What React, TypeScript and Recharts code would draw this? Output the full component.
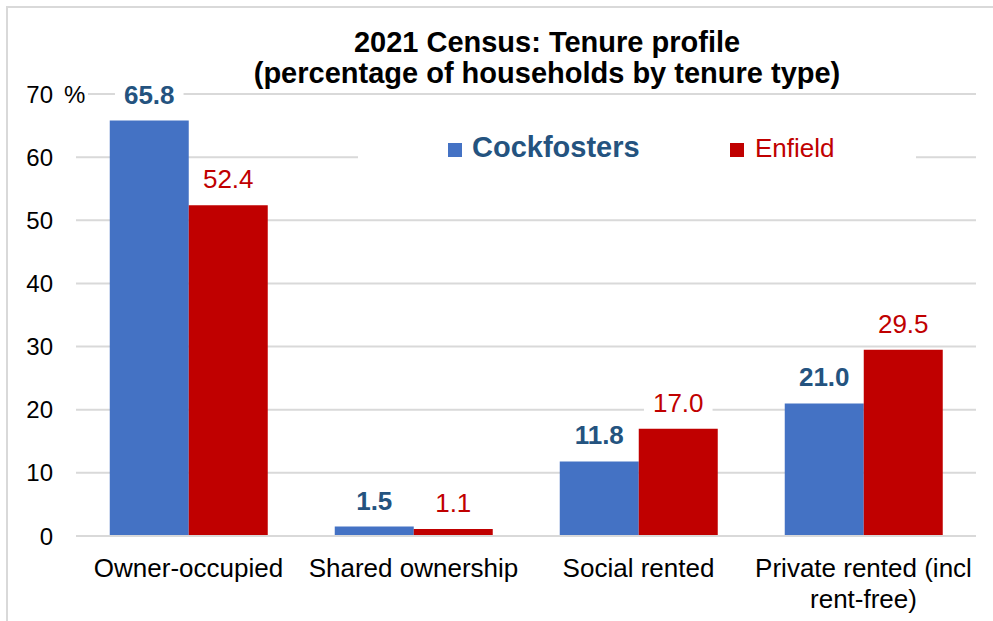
import React from "react";
import { BarChart, Bar, XAxis, YAxis, CartesianGrid, LabelList, Legend } from "recharts";

const categories = ["Owner-occupied", "Shared ownership", "Social rented", "Private rented (incl rent-free)"];
const categoryLines = [["Owner-occupied"], ["Shared ownership"], ["Social rented"], ["Private rented (incl", "rent-free)"]];
const cockfosters = [65.8, 1.5, 11.8, 21.0];
const enfield = [52.4, 1.1, 17.0, 29.5];
const yTicks = [0, 10, 20, 30, 40, 50, 60, 70];
const seriesNames = ["Cockfosters", "Enfield"];
const titleLines = ["2021 Census: Tenure profile", "(percentage of households by tenure type)"];

const data = categories.map((c, i) => ({ name: c, idx: i, Cockfosters: cockfosters[i], Enfield: enfield[i] }));

const FONT = "'Liberation Sans', Arial, sans-serif";
const BLUE = "#4472C4";
const RED = "#C00000";
const BLUE_TEXT = "#24537F";
const GRID = "#d9d9d9";

const makeLabel = (color: string, bold: boolean) => (props: any) => {
  const { x, y, width, value } = props;
  const txt = Number(value).toFixed(1);
  const cx = Number(x) + Number(width) / 2;
  const cy = Number(y) - 26;
  let w = 0;
  for (const ch of txt) w += ch === "." ? 0.278 : 0.556;
  w = w * 26 + 18;
  return (
    <g>
      <rect x={cx - w / 2} y={cy - 15} width={w} height={30} fill="#fff" />
      <text
        x={cx}
        y={cy}
        textAnchor="middle"
        dominantBaseline="central"
        fontSize={26}
        fontWeight={bold ? 700 : 400}
        fill={color}
        fontFamily={FONT}
      >
        {txt}
      </text>
    </g>
  );
};

const YTick = (props: any) => {
  const { y, payload } = props;
  const v = payload.value;
  return (
    <g>
      <text x={53} y={y} textAnchor="end" dominantBaseline="central" fontSize={24} fill="#000" fontFamily={FONT}>
        {v}
      </text>
      {v === 70 && (
        <g>
          <rect x={60} y={y - 14} width={28} height={28} fill="#fff" />
          <text x={64} y={y} textAnchor="start" dominantBaseline="central" fontSize={24} fill="#000" fontFamily={FONT}>
            %
          </text>
        </g>
      )}
    </g>
  );
};

const XTick = (props: any) => {
  const { x, y, payload } = props;
  const idx = categories.indexOf(payload.value);
  const lines = idx >= 0 ? categoryLines[idx] : [String(payload.value)];
  return (
    <g>
      {lines.map((ln, i) => (
        <text
          key={i}
          x={x}
          y={y + 41 + i * 31}
          textAnchor="middle"
          fontSize={26}
          fill="#000"
          fontFamily={FONT}
        >
          {ln}
        </text>
      ))}
    </g>
  );
};

const LegendContent = () => {
  const colors = [BLUE, RED];
  const textColors = [BLUE_TEXT, RED];
  const rectX = [90, 372];
  const textX = [114, 397];
  const sizes = [29, 26];
  const weights = [700, 400];
  return (
    <svg width={558} height={38} style={{ display: "block" }}>
      {seriesNames.map((n, i) => (
        <g key={n}>
          <rect x={rectX[i]} y={13} width={14} height={14} fill={colors[i]} />
          <text x={textX[i]} y={27} fontSize={sizes[i]} fontWeight={weights[i]} fill={textColors[i]} fontFamily={FONT}>
            {n}
          </text>
        </g>
      ))}
    </svg>
  );
};

export default function App() {
  return (
    <div
      style={{
        position: "absolute",
        left: 0,
        top: 0,
        width: 993,
        height: 621,
        overflow: "hidden",
        background: "#fff",
        fontFamily: FONT,
      }}
    >
      <div
        style={{
          position: "absolute",
          left: 6,
          top: 6,
          width: 1200,
          height: 900,
          border: "2px solid #d9d9d9",
          boxSizing: "border-box",
        }}
      />
      <div style={{ position: "absolute", left: 0, top: 0 }}>
        <BarChart
          width={993}
          height={621}
          data={data}
          margin={{ top: 94, right: 17, left: 0, bottom: 0 }}
          barCategoryGap="15%"
          barGap={0}
        >
          <CartesianGrid vertical={false} stroke={GRID} strokeWidth={2} />
          <XAxis
            dataKey="name"
            height={85}
            tickLine={false}
            tickSize={0}
            tickMargin={0}
            axisLine={{ stroke: GRID, strokeWidth: 2 }}
            tick={<XTick />}
            interval={0}
          />
          <YAxis
            width={76}
            domain={[0, 70]}
            ticks={yTicks}
            axisLine={false}
            tickLine={false}
            tick={<YTick />}
            interval={0}
          />
          <Legend
            layout="vertical"
            align="center"
            verticalAlign="middle"
            content={<LegendContent />}
            wrapperStyle={{ left: 358, top: 130, width: 558, height: 38, background: "#fff" }}
          />
          <Bar dataKey="Cockfosters" fill={BLUE} isAnimationActive={false}>
            <LabelList dataKey="Cockfosters" content={makeLabel(BLUE_TEXT, true)} />
          </Bar>
          <Bar dataKey="Enfield" fill={RED} isAnimationActive={false}>
            <LabelList dataKey="Enfield" content={makeLabel(RED, false)} />
          </Bar>
        </BarChart>
      </div>
      <div
        style={{
          position: "absolute",
          left: 147,
          top: 27,
          width: 800,
          textAlign: "center",
          fontSize: 29,
          fontWeight: 700,
          lineHeight: "31px",
          color: "#000",
          fontFamily: FONT,
        }}
      >
        {titleLines.map((t, i) => (
          <div key={i}>{t}</div>
        ))}
      </div>
    </div>
  );
}
